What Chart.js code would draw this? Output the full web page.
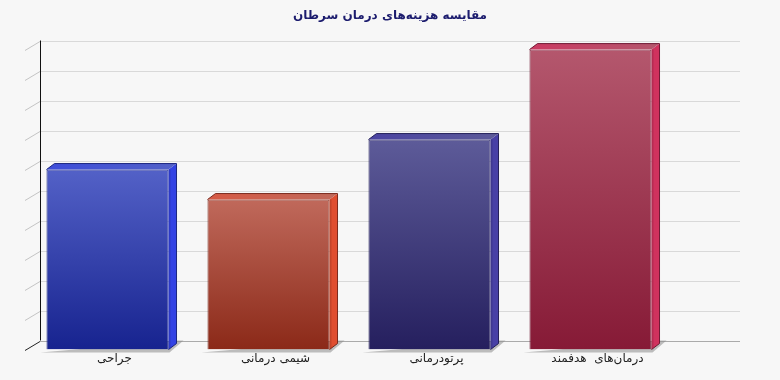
<!DOCTYPE html>
<html><head><meta charset="utf-8">
<script src="https://cdn.jsdelivr.net/npm/chart.js@4/dist/chart.umd.min.js"></script>
<style>html,body{margin:0;padding:0;background:#f7f7f7}canvas{display:block}</style>
</head><body>
<canvas id="c" width="780" height="380"></canvas>
<script>
const titleText = 'مقایسه هزینه‌های درمان سرطان';
const categories = ['جراحی', 'شیمی درمانی', 'پرتودرمانی', 'درمان‌های  هدفمند'];
const values = [6, 5, 7, 10];
const yMin = 0, yMax = 10, yStep = 1;

const frontTop = ['#5361c7', '#c0695b', '#5d5b99', '#b4576d'];
const frontBottom = ['#17238f', '#8b2918', '#251f5e', '#861a36'];
const sideColors = ['#3343e4', '#e04e30', '#4840a6', '#d0325e'];
const topColors = ['#3d4dda', '#d65a45', '#4a43a2', '#cb3a62'];
const borderColors = ['#1c2680', '#7a2a1e', '#24205a', '#701a34'];

const FONT = '"DejaVu Sans", sans-serif';
const WALL_DX = 15, WALL_DY = 9.5, BAR_DX = 8, BAR_DY = 6;

const threeD = {
  id: 'threeD',
  beforeDraw(chart) {
    const ctx = chart.ctx;
    ctx.save();
    ctx.fillStyle = '#f7f7f7';
    ctx.fillRect(0, 0, chart.width, chart.height);
    ctx.restore();
  },
  beforeDatasetsDraw(chart) {
    const ctx = chart.ctx, ys = chart.scales.y, ca = chart.chartArea;
    const L0 = ca.left - 2, wallRight = ca.right + 69;
    ctx.save();
    ctx.lineWidth = 1;
    const ticks = ys.ticks.map(t => t.value);
    ticks.forEach(v => {
      const yf = Math.round(ys.getPixelForValue(v)) + 0.5;
      const yb = Math.round(yf - WALL_DY) + 0.5;
      ctx.strokeStyle = v === yMin ? '#aaaaaa' : '#d9d9d9';
      ctx.beginPath(); ctx.moveTo(L0 + WALL_DX, yb); ctx.lineTo(wallRight, yb); ctx.stroke();
      ctx.strokeStyle = v === yMin ? '#222222' : '#c4c4c4';
      ctx.beginPath(); ctx.moveTo(L0, yf); ctx.lineTo(L0 + WALL_DX, yb); ctx.stroke();
    });
    const xAxis = Math.round(L0 + WALL_DX) + 0.5;
    ctx.strokeStyle = '#111';
    ctx.beginPath();
    ctx.moveTo(xAxis, Math.round(ys.getPixelForValue(yMax) - WALL_DY) + 0.5);
    ctx.lineTo(xAxis, Math.round(ys.getPixelForValue(yMin) - WALL_DY) + 0.5);
    ctx.stroke();
    // shadows
    const meta = chart.getDatasetMeta(0);
    ctx.fillStyle = 'rgba(140,140,140,0.55)';
    meta.data.forEach(bar => {
      const l = bar.x - bar.width / 2, r = bar.x + bar.width / 2, b = bar.base;
      ctx.beginPath();
      ctx.moveTo(l - 6, b + 3);
      ctx.lineTo(r + 1, b + 3);
      ctx.lineTo(r + BAR_DX + 7, b - BAR_DY - 3);
      ctx.lineTo(r + BAR_DX, b - BAR_DY - 3);
      ctx.closePath(); ctx.fill();
    });
    ctx.restore();
  },
  afterDatasetsDraw(chart) {
    const ctx = chart.ctx;
    const meta = chart.getDatasetMeta(0);
    ctx.save();
    meta.data.forEach((bar, i) => {
      const l = bar.x - bar.width / 2, r = bar.x + bar.width / 2, t = bar.y, b = bar.base;
      // side
      ctx.fillStyle = sideColors[i];
      ctx.beginPath();
      ctx.moveTo(r, t); ctx.lineTo(r + BAR_DX, t - BAR_DY);
      ctx.lineTo(r + BAR_DX, b - BAR_DY); ctx.lineTo(r, b);
      ctx.closePath(); ctx.fill();
      ctx.fillStyle = 'rgba(0,0,0,0.12)';
      ctx.fillRect(r, t, 2, b - t);
      // top
      const tg = ctx.createLinearGradient(l, 0, r + BAR_DX, 0);
      tg.addColorStop(0, topColors[i]);
      tg.addColorStop(1, frontTop[i]);
      ctx.fillStyle = tg;
      ctx.beginPath();
      ctx.moveTo(l, t); ctx.lineTo(l + BAR_DX, t - BAR_DY);
      ctx.lineTo(r + BAR_DX, t - BAR_DY); ctx.lineTo(r, t);
      ctx.closePath(); ctx.fill();
      ctx.strokeStyle = borderColors[i];
      ctx.lineWidth = 1;
      ctx.beginPath();
      ctx.moveTo(l, t); ctx.lineTo(l + BAR_DX, t - BAR_DY);
      ctx.lineTo(r + BAR_DX, t - BAR_DY); ctx.lineTo(r + BAR_DX, b - BAR_DY);
      ctx.lineTo(r, b);
      ctx.stroke();
      // category label
      ctx.fillStyle = '#222';
      ctx.font = '12px ' + FONT;
      ctx.textAlign = 'center';
      ctx.textBaseline = 'middle';
      ctx.direction = 'rtl';
      ctx.fillText(categories[i], bar.x + 7, b + 9);
    });
    ctx.restore();
  },
  afterDraw(chart) {
    const ctx = chart.ctx;
    ctx.save();
    ctx.fillStyle = '#1c1c6e';
    ctx.font = 'bold 12px ' + FONT;
    ctx.textAlign = 'center';
    ctx.textBaseline = 'middle';
    ctx.direction = 'rtl';
    ctx.fillText(titleText, chart.width / 2, 16);
    ctx.restore();
  }
};

new Chart(document.getElementById('c'), {
  type: 'bar',
  data: {
    labels: categories,
    datasets: [{
      data: values,
      backgroundColor(ctx) {
        const chart = ctx.chart, ys = chart.scales.y;
        if (!chart.chartArea || !ys || ctx.parsed === undefined) return frontTop[ctx.dataIndex];
        const top = ys.getPixelForValue(ctx.parsed.y), base = ys.getPixelForValue(yMin);
        const g = chart.ctx.createLinearGradient(0, top, 0, base);
        g.addColorStop(0, frontTop[ctx.dataIndex]);
        g.addColorStop(1, frontBottom[ctx.dataIndex]);
        return g;
      },
      borderColor: borderColors,
      borderWidth: 1,
      barPercentage: 0.758,
      categoryPercentage: 1
    }]
  },
  options: {
    responsive: false,
    animation: false,
    layout: { padding: { left: 27, right: 109, top: 49.6, bottom: 30.5 } },
    plugins: {
      legend: { display: false },
      tooltip: { enabled: false },
      title: { display: false }
    },
    scales: {
      x: { display: false },
      y: { display: false, min: yMin, max: yMax, ticks: { stepSize: yStep } }
    }
  },
  plugins: [threeD]
});
</script>
</body></html>
